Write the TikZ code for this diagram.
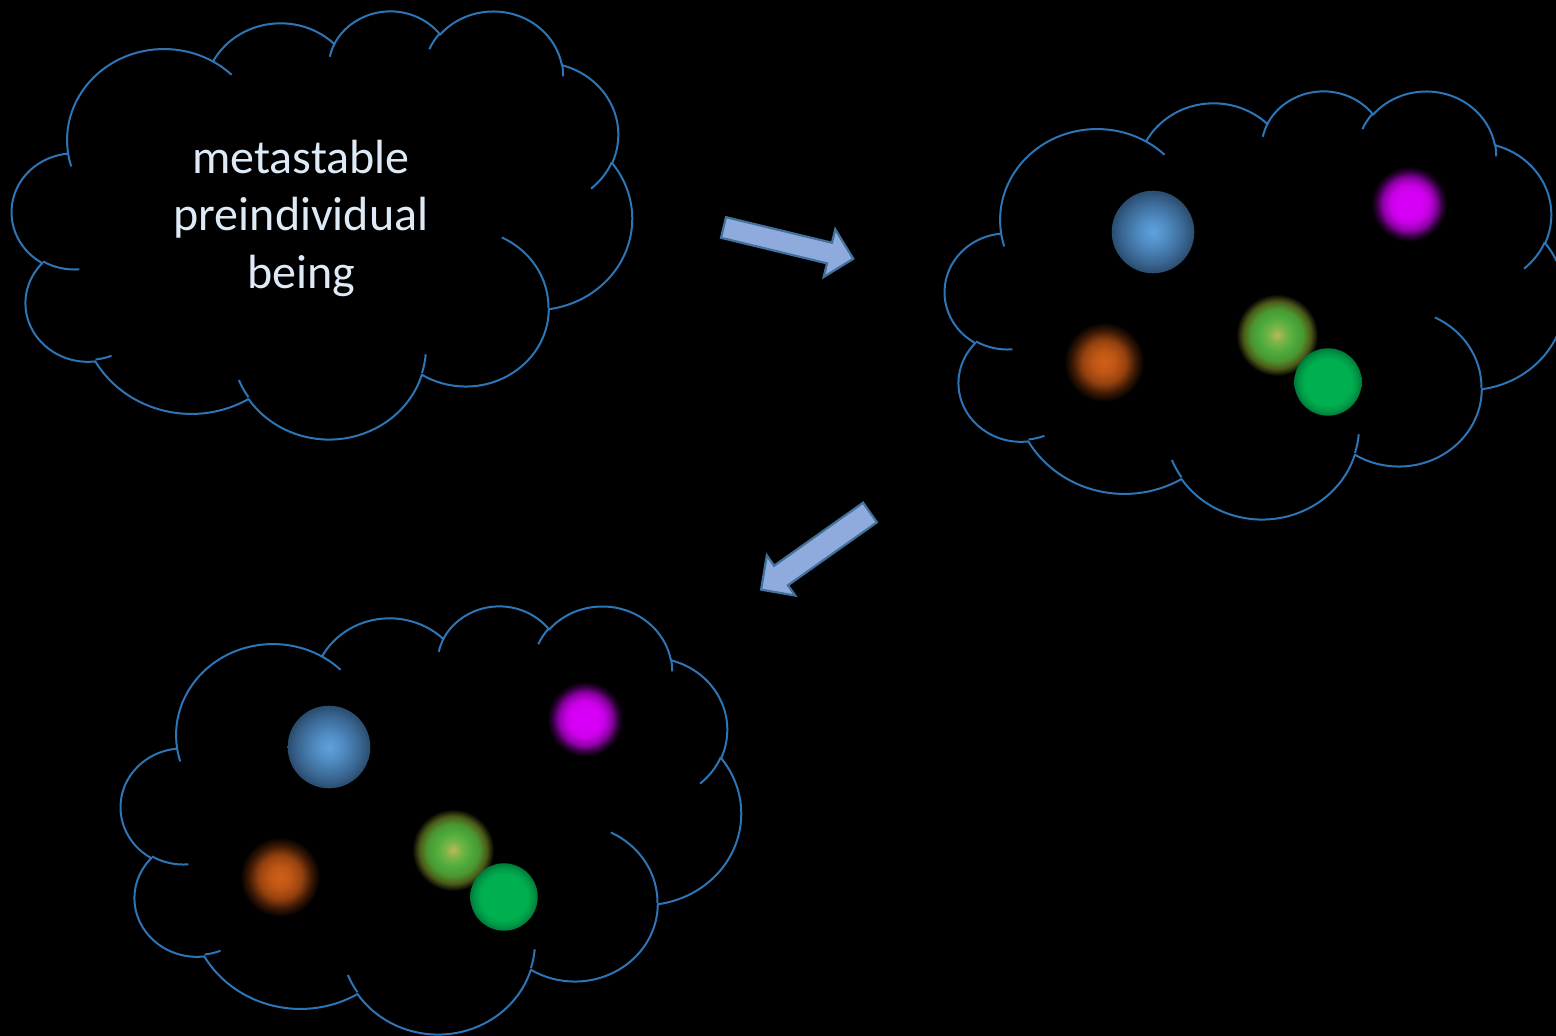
\documentclass[tikz,border=0pt]{standalone}
\usepackage{fontspec}
\setmainfont{Carlito}

% ---------- colours ----------
\definecolor{cloudblue}{RGB}{46,117,182}
\definecolor{textblue}{RGB}{222,235,247}
\definecolor{arrowfill}{RGB}{143,170,220}
\definecolor{arrowline}{RGB}{65,113,156}

\definecolor{bsC}{RGB}{96,162,222}
\definecolor{bsM}{RGB}{78,138,192}
\definecolor{bsO}{RGB}{58,102,146}
\definecolor{bsE}{RGB}{42,76,110}

\definecolor{mgC}{RGB}{214,0,246}
\definecolor{mgM}{RGB}{200,0,230}
\definecolor{mgO}{RGB}{140,0,164}
\definecolor{mgE}{RGB}{50,0,60}

\definecolor{orC}{RGB}{206,96,26}
\definecolor{orM}{RGB}{190,86,20}
\definecolor{orO}{RGB}{150,66,15}
\definecolor{orE}{RGB}{62,26,5}

\definecolor{glC}{RGB}{192,182,92}
\definecolor{glM}{RGB}{118,182,70}
\definecolor{glO}{RGB}{76,170,60}
\definecolor{glR}{RGB}{74,150,48}
\definecolor{glE}{RGB}{76,90,24}

\definecolor{gsC}{RGB}{0,176,80}
\definecolor{gsO}{RGB}{0,152,70}
\definecolor{gsE}{RGB}{0,122,58}

% ---------- sphere and glow shadings (25bp = rim of the filled circle) ----------
\pgfdeclareradialshading{bluesphere}{\pgfpointorigin}{%
  color(0bp)=(bsC); color(9bp)=(bsM); color(19bp)=(bsO); color(25bp)=(bsE); color(50bp)=(bsE)}
\pgfdeclareradialshading{greensphere}{\pgfpointorigin}{%
  color(0bp)=(gsC); color(17bp)=(gsC); color(21.5bp)=(gsO); color(25bp)=(gsE); color(50bp)=(gsE)}
\pgfdeclareradialshading{glowmagenta}{\pgfpointorigin}{%
  color(0bp)=(mgC); color(8bp)=(mgC); color(12.5bp)=(mgM); color(17.5bp)=(mgO); color(21.5bp)=(mgE); color(25bp)=(black); color(50bp)=(black)}
\pgfdeclareradialshading{gloworange}{\pgfpointorigin}{%
  color(0bp)=(orC); color(7bp)=(orM); color(13.5bp)=(orO); color(19.5bp)=(orE); color(25bp)=(black); color(50bp)=(black)}
\pgfdeclareradialshading{glowgreen}{\pgfpointorigin}{%
  color(0bp)=(glC); color(5bp)=(glM); color(11bp)=(glO); color(16bp)=(glR); color(20.5bp)=(glE); color(25bp)=(black); color(50bp)=(black)}

% ---------- cloud outline (units of 1/432 of the cloud box) ----------
% arcs are given with "visual" angles and turned into parametric ones
\newcommand\appendarc[5]{%
  \pgfmathsetmacro\cldA{atan2((#2)*sin(#4),(#3)*cos(#4))}%
  \pgfmathsetmacro\cldB{atan2((#2)*sin(#4+#5),(#3)*cos(#4+#5))}%
  \pgfmathsetmacro\cldD{mod(\cldB-\cldA+720,360)}%
  \xdef#1{#1 arc[start angle=\cldA, delta angle=\cldD, x radius=#2, y radius=#3]}%
}
\def\cloudmain{(39.00,143.70)}
\appendarc\cloudmain{67.53}{91.90}{-190.4875}{123.7805}
\appendarc\cloudmain{53.33}{72.67}{-144.1024}{89.9452}
\appendarc\cloudmain{43.65}{59.45}{-145.8079}{99.7230}
\appendarc\cloudmain{48.57}{65.95}{-130.9861}{117.2417}
\appendarc\cloudmain{53.33}{72.73}{-78.7089}{109.0269}
\appendarc\cloudmain{67.75}{92.20}{-46.2673}{130.2690}
\appendarc\cloudmain{57.85}{78.67}{0.6250}{114.0333}
\appendarc\cloudmain{67.52}{92.15}{22.4516}{115.1726}
\appendarc\cloudmain{77.20}{105.43}{66.2426}{75.7110}
\appendarc\cloudmain{43.60}{59.18}{-274.9421}{146.7356}
\appendarc\cloudmain{43.45}{59.45}{-246.8285}{152.5189}
\xdef\cloudmain{\cloudmain -- cycle}

\def\clouddeco{}
\newcommand\decopiece[6]{%
  \xdef\clouddeco{\clouddeco (#1,#2)}%
  \appendarc\clouddeco{#3}{#4}{#5}{#6}}
\decopiece{46.93}{261.77}{43.45}{59.45}{86.7420}{26.4295}
\decopiece{69.28}{348.99}{43.60}{59.18}{73.6105}{11.4475}
\decopiece{164.78}{390.90}{67.52}{92.15}{137.6242}{14.0811}
\decopiece{288.27}{347.51}{67.52}{92.15}{6.4533}{15.9984}
\decopiece{341.29}{229.54}{57.85}{78.67}{-70.2924}{70.9174}
\decopiece{417.98}{153.54}{53.33}{72.73}{30.3180}{27.7515}
\decopiece{383.24}{54.26}{48.57}{65.95}{-13.7443}{14.8589}
\decopiece{290.78}{39.52}{48.57}{65.95}{-149.1815}{18.1954}
\decopiece{221.41}{47.20}{43.65}{59.45}{-163.4943}{17.6864}
\decopiece{140.00}{51.92}{67.53}{91.90}{-66.7070}{12.3194}
\decopiece{41.27}{157.89}{67.53}{91.90}{157.6544}{11.8582}

\tikzset{
  cloudline/.style={draw=cloudblue, line width=1pt, line join=round},
  arrowbody/.style={fill=arrowfill, draw=arrowline, line width=1.1pt, line join=miter},
  cloudtext/.style={text=textblue, font=\fontsize{24pt}{28.75pt}\selectfont, align=center, inner sep=0pt},
}

% cloud with its box's top-left corner at (#2,#3)
\newcommand\drawcloud[3]{%
  \begin{scope}[shift={(#2,#3)}, x=0.717593pt, y=-0.495370pt]
    \coordinate (#1) at (216,216);
    \draw[cloudline] \cloudmain;
    \draw[cloudline] \clouddeco;
  \end{scope}}

% block arrow: name, tail centre x, y, rotation, half shaft width
\newcommand\blockarrow[5]{%
  \begin{scope}[shift={(#2,#3)}, rotate=#4]
    \draw[arrowbody] (0,-#5) -- (109,-#5) -- (109,-24.6) -- (133.5,0)
      -- (109,24.6) -- (109,#5) -- (0,#5) -- cycle;
    \coordinate (#1) at (66,0);
  \end{scope}}

% the five spheres, placed relative to a cloud's top-left corner
\newcommand\spheres[2]{%
  \begin{scope}[shift={(#1,#2)}]
    \shade[shading=glowmagenta] (464,114) circle[radius=38];
    \shade[shading=gloworange]  (159,272) circle[radius=40];
    \shade[shading=glowgreen]   (332,245) circle[radius=41];
    \shade[shading=bluesphere]  (208,142) circle[radius=41.3];
    \shade[shading=greensphere] (383,292) circle[radius=33.7];
  \end{scope}}

\begin{document}
\begin{tikzpicture}[x=0.5pt, y=-0.5pt]
  \fill[black] (0,0) rectangle (1556,1036);
  \useasboundingbox (0,0) rectangle (1556,1036);
  \clip (0,0) rectangle (1556,1036);

  \drawcloud{preind}{12}{10}
  \drawcloud{split}{945}{90}
  \drawcloud{result}{121}{605}

  \node[cloudtext] (beingtext) at (301,218) {metastable\\preindividual\\being};

  \spheres{945}{90}
  \spheres{121}{605}

  \blockarrow{arrowA}{723.5}{227.5}{-13.57}{10.6}
  \blockarrow{arrowB}{870}{512.5}{215.3}{12}
\end{tikzpicture}
\end{document}
